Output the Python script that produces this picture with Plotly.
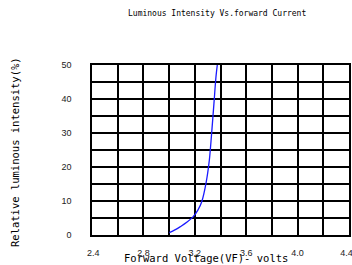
import plotly.graph_objects as go

# Data
vf = [3.002, 3.045, 3.085, 3.14, 3.188, 3.225, 3.254, 3.287, 3.313, 3.331, 3.349, 3.365, 3.375]
intensity = [0.7, 1.5, 2.4, 3.8, 5.4, 7.4, 9.8, 15.2, 22.0, 29.9, 38.7, 46.6, 50.0]

x_ticks = [2.4, 2.8, 3.2, 3.6, 4.0, 4.4]
x_labels = ["\u00a02.4", "2.8", "3.2", "3.6", "4.0", "4.4\u00a0\u00a0"]
y_ticks = [0, 10, 20, 30, 40, 50]
y_labels = ["0", "10", "20", "30", "40", "50"]

title_text = "Luminous Intensity Vs.forward Current"
x_title = "Forward Voltage(VF)- volts"
y_title = "Relative luminous intensity(%)"

fig = go.Figure()
fig.add_trace(go.Scatter(x=vf, y=intensity, mode="lines",
                         line=dict(color="#1a1aff", width=1.3, shape="spline", smoothing=1.0),
                         showlegend=False, hoverinfo="skip", cliponaxis=True))

tickfont = dict(family="Liberation Sans", size=9, color="#222")
mono = "DejaVu Sans Mono"

W, H = 352, 265
l, r, t, b = 92, 3, 65, 30

fig.update_layout(
    width=W, height=H,
    margin=dict(l=l, r=r, t=t, b=b, autoexpand=False),
    paper_bgcolor="white", plot_bgcolor="white",
    xaxis=dict(range=[2.4, 4.4], tickvals=x_ticks, ticktext=x_labels,
               showgrid=True, gridcolor="black", gridwidth=1.5,
               minor=dict(dtick=0.2, tick0=2.4, showgrid=True, gridcolor="black", gridwidth=1.5),
               showline=True, linecolor="black", linewidth=1.5, mirror=True,
               zeroline=False, ticks="", tickfont=tickfont, ticklabelstandoff=8,
               ticklabeloverflow="allow", automargin=False,
               fixedrange=True),
    yaxis=dict(range=[0, 50], tickvals=y_ticks, ticktext=y_labels,
               showgrid=True, gridcolor="black", gridwidth=1.5,
               minor=dict(dtick=5, tick0=0, showgrid=True, gridcolor="black", gridwidth=1.5),
               showline=True, linecolor="black", linewidth=1.5, mirror=True,
               zeroline=False, ticks="", tickfont=tickfont, ticklabelstandoff=17,
               automargin=False, fixedrange=True),
)

pw, ph = W - l - r, H - t - b


def ann(text, px, py, size, angle=0):
    return dict(text=text, xref="paper", yref="paper",
                x=(px - l) / pw, y=(H - b - py) / ph,
                xanchor="center", yanchor="middle", showarrow=False, textangle=angle,
                font=dict(family=mono, size=size, color="black"))


fig.update_layout(annotations=[
    ann(title_text, 217, 14, 8),
    ann(x_title, 206, 258, 10.5),
    ann(y_title, 15, 152, 10.5, -90),
])

fig.write_html("out.html", config={"displayModeBar": False},
               post_script="document.body.style.margin='0px';document.body.style.overflow='hidden';")
